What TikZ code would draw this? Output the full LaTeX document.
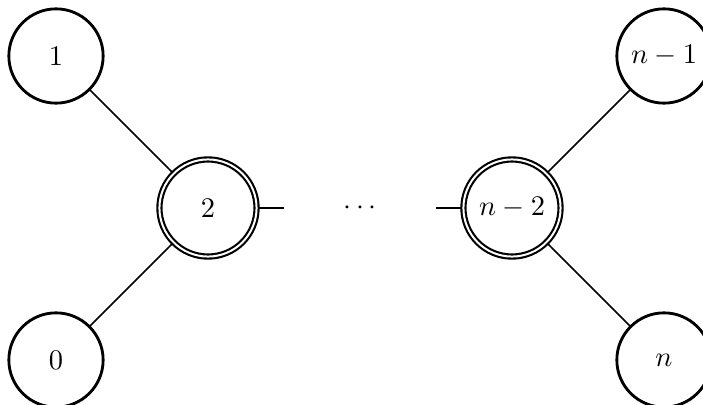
\documentclass[tikz,border=0pt]{standalone}
\begin{document}
\begin{tikzpicture}[x=26.76pt,y=26.76pt,
  vtx/.style={circle,draw,line width=1pt,minimum size=33.2pt,inner sep=1pt},
  dvtx/.style={circle,draw,double,line width=0.75pt,double distance=0.7pt,minimum size=34.2pt,inner sep=1pt},
  edge/.style={line width=0.6pt}]
\clip (-0.7368,-0.592) rectangle (8.5132,4.7368);
\node[vtx] (v1) at (0,4) {$1$};
\node[vtx] (v0) at (0,0) {$0$};
\node[dvtx] (v2) at (2,2) {$2$};
\node[dvtx] (vn2) at (6,2) {$n-2$};
\node[vtx] (vn1) at (8,4) {$n-1$};
\node[vtx] (vn) at (8,0) {$n$};
\node (dots) at (4,2) {$\cdots$};
\coordinate (a) at (3,2);
\coordinate (b) at (5,2);
\draw[edge] (v1) -- (v2);
\draw[edge] (v0) -- (v2);
\draw[edge] (vn1) -- (vn2);
\draw[edge] (vn) -- (vn2);
\draw[edge] (v2) -- (a);
\draw[edge] (b) -- (vn2);
\end{tikzpicture}
\end{document}
